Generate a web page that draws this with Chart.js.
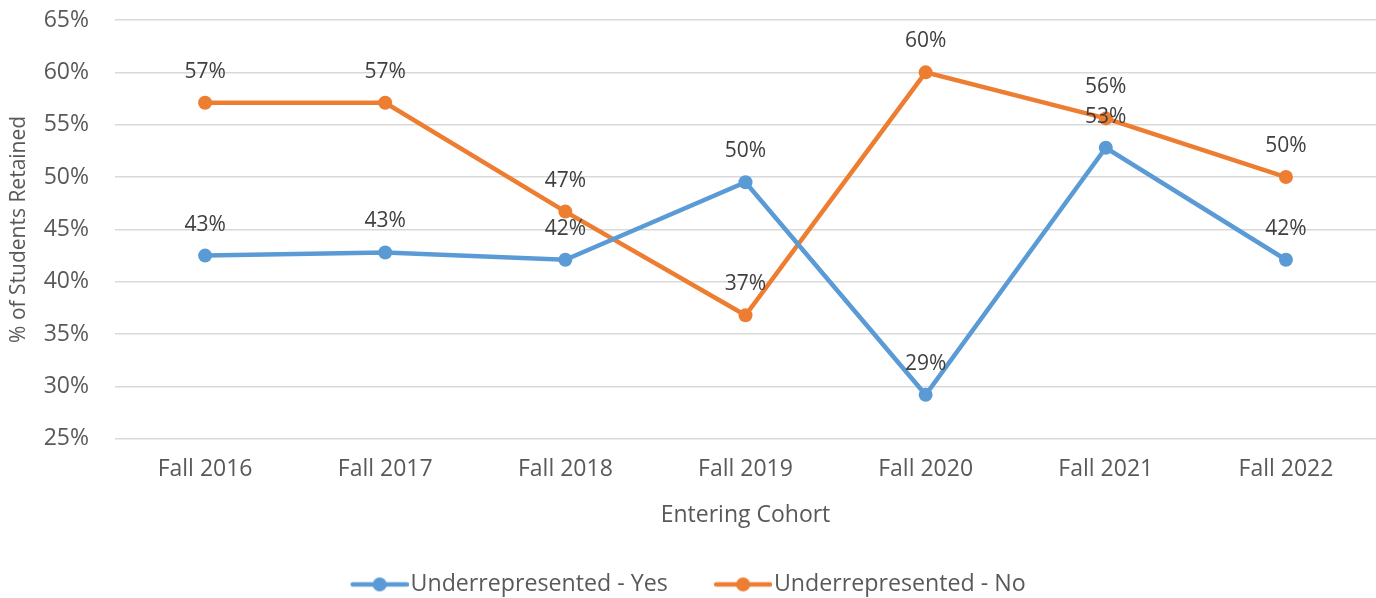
<!DOCTYPE html>
<html>
<head>
<meta charset="utf-8">
<script src="https://cdn.jsdelivr.net/npm/chart.js@4/dist/chart.umd.min.js"></script>
<style>
  html, body { margin: 0; padding: 0; background: #fff; }
  #wrap { width: 1376px; height: 598px; }
</style>
</head>
<body>
<div id="wrap"><canvas id="chart"></canvas></div>
<script>
const cohorts = ['Fall 2016', 'Fall 2017', 'Fall 2018', 'Fall 2019', 'Fall 2020', 'Fall 2021', 'Fall 2022'];
const underYes = [42.5, 42.8, 42.1, 49.5, 29.2, 52.8, 42.1];
const underNo = [57.1, 57.1, 46.7, 36.8, 60.0, 55.6, 50.0];

const blue = '#5B9BD5';
const orange = '#ED7D31';
const font = '"Open Sans", sans-serif';

// legend icon: short line with a dot, shifted so the text sits close to it
function legendIcon(color) {
    const c = document.createElement('canvas');
    c.width = 68;
    c.height = 16;
    const g = c.getContext('2d');
    g.strokeStyle = color;
    g.lineWidth = 4.5;
    g.lineCap = 'round';
    g.beginPath();
    g.moveTo(12, 8);
    g.lineTo(66, 8);
    g.stroke();
    g.fillStyle = color;
    g.beginPath();
    g.arc(39, 8, 7, 0, Math.PI * 2);
    g.fill();
    return c;
}

const valueLabels = {
    id: 'valueLabels',
    afterDatasetsDraw(chart) {
        const ctx = chart.ctx;
        ctx.save();
        ctx.font = '21px ' + font;
        ctx.fillStyle = '#404040';
        ctx.textAlign = 'center';
        ctx.textBaseline = 'middle';
        chart.data.datasets.forEach((ds, i) => {
            chart.getDatasetMeta(i).data.forEach((pt, j) => {
                ctx.fillText(Math.round(ds.data[j]) + '%', pt.x, pt.y - 31);
            });
        });
        ctx.restore();
    }
};

const ctx = document.getElementById('chart').getContext('2d');

new Chart(ctx, {
    type: 'line',
    data: {
        labels: cohorts,
        datasets: [
            {
                label: 'Underrepresented - Yes',
                data: underYes,
                borderColor: blue,
                backgroundColor: blue,
                borderWidth: 4.5,
                pointRadius: 7,
                pointHoverRadius: 7,
                pointBorderWidth: 0
            },
            {
                label: 'Underrepresented - No',
                data: underNo,
                borderColor: orange,
                backgroundColor: orange,
                borderWidth: 4.5,
                pointRadius: 7,
                pointHoverRadius: 7,
                pointBorderWidth: 0
            }
        ]
    },
    options: {
        responsive: true,
        maintainAspectRatio: false,
        animation: false,
        layout: { autoPadding: false, padding: { top: 20, right: 0, left: 0, bottom: -8 } },
        elements: { line: { tension: 0 } },
        plugins: {
            tooltip: { enabled: false },
            legend: {
                position: 'bottom',
                labels: {
                    usePointStyle: true,
                    pointStyleWidth: 48.5,
                    boxHeight: 16,
                    padding: 46,
                    color: '#595959',
                    font: { family: font, size: 23.2, lineHeight: 1 },
                    generateLabels(chart) {
                        return chart.data.datasets.map((ds, i) => ({
                            text: ds.label,
                            fillStyle: ds.borderColor,
                            strokeStyle: ds.borderColor,
                            lineWidth: 0,
                            pointStyle: legendIcon(ds.borderColor),
                            datasetIndex: i,
                            hidden: false,
                            fontColor: '#595959'
                        }));
                    }
                }
            }
        },
        scales: {
            x: {
                offset: true,
                grid: { display: false, drawTicks: false },
                border: { display: false },
                ticks: {
                    color: '#595959',
                    padding: 17,
                    maxRotation: 0,
                    font: { family: font, size: 23 }
                },
                title: {
                    display: true,
                    text: 'Entering Cohort',
                    color: '#595959',
                    padding: { top: 0, bottom: 0 },
                    font: { family: font, size: 23, lineHeight: 1 }
                },
                afterFit(scale) { scale.height = 88; }
            },
            y: {
                min: 25,
                max: 65,
                grid: { color: '#d9d9d9', lineWidth: 1.5, drawTicks: false },
                border: { display: false },
                ticks: {
                    stepSize: 5,
                    color: '#595959',
                    padding: 26,
                    font: { family: font, size: 23 },
                    callback: v => v + '%'
                },
                title: {
                    display: true,
                    text: '% of Students Retained',
                    color: '#595959',
                    padding: { top: 9, bottom: 0 },
                    font: { family: font, size: 21, lineHeight: 1 }
                },
                afterFit(scale) {
                    scale.width = 115;
                    scale.paddingTop = 0;
                    scale.paddingBottom = 0;
                }
            }
        }
    },
    plugins: [valueLabels]
});
</script>
</body>
</html>
